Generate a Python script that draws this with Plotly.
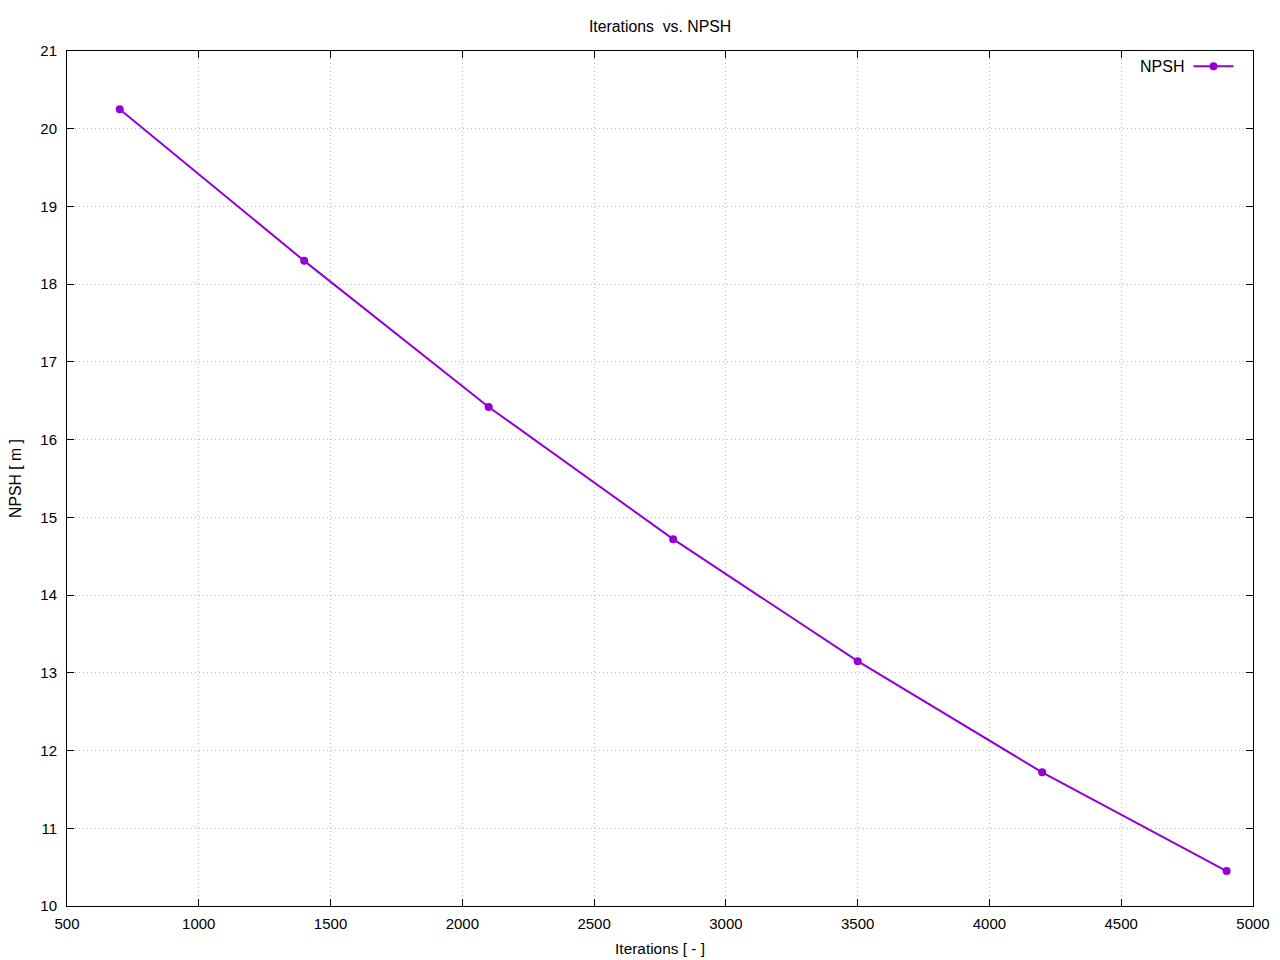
import plotly.graph_objects as go

iterations = [700, 1400, 2100, 2800, 3500, 4200, 4900]
npsh = [20.25, 18.30, 16.42, 14.72, 13.15, 11.72, 10.45]

series_name = "NPSH"
title_text = "Iterations  vs. NPSH"
x_title = "Iterations [ - ]"
y_title = "NPSH [ m ]"

color = "#9400D3"
font_family = "Liberation Sans, Arial, sans-serif"

fig = go.Figure()
fig.add_trace(go.Scatter(
    x=iterations, y=npsh, mode="lines+markers", name="",
    line=dict(color=color, width=2),
    marker=dict(color=color, size=8, symbol="circle"),
    showlegend=True,
))

axis_common = dict(
    showline=True, linecolor="black", linewidth=1, mirror="ticks",
    ticks="inside", ticklen=7, tickcolor="black", tickwidth=1,
    showgrid=True, gridcolor="#bdbdbd", gridwidth=1, griddash="1px,3px",
    zeroline=False, tickfont=dict(size=15, color="black", family=font_family),
)

fig.update_layout(
    width=1280, height=960,
    margin=dict(l=67, r=27, t=51, b=54, autoexpand=False),
    paper_bgcolor="white", plot_bgcolor="white",
    font=dict(family=font_family, size=15, color="black"),
    title=dict(text=title_text, x=0.5, xref="paper", xanchor="center",
               y=1 - 26 / 960, yref="container", yanchor="middle",
               font=dict(size=15.8, color="black")),
    xaxis=dict(range=[500, 5000], dtick=500, tick0=500, ticklabelstandoff=4,
               title=dict(text=x_title, standoff=12, font=dict(size=15.4)),
               **axis_common),
    yaxis=dict(range=[10, 21], dtick=1, tick0=10, ticklabelstandoff=6,
               title=dict(text=y_title, standoff=14, font=dict(size=15.8)),
               **axis_common),
    legend=dict(x=0.992, y=1.002, xanchor="right", yanchor="top",
                bgcolor="rgba(0,0,0,0)", borderwidth=0,
                itemwidth=40, font=dict(size=16)),
    annotations=[dict(text=series_name, xref="paper", yref="paper",
                      x=0.9433, y=0.982, xanchor="right", yanchor="middle",
                      showarrow=False, font=dict(size=16, color="black"))],
)

fig.write_html("out.html", config={"displayModeBar": False},
               post_script="document.body.style.margin='0px';document.body.style.padding='0px';")
